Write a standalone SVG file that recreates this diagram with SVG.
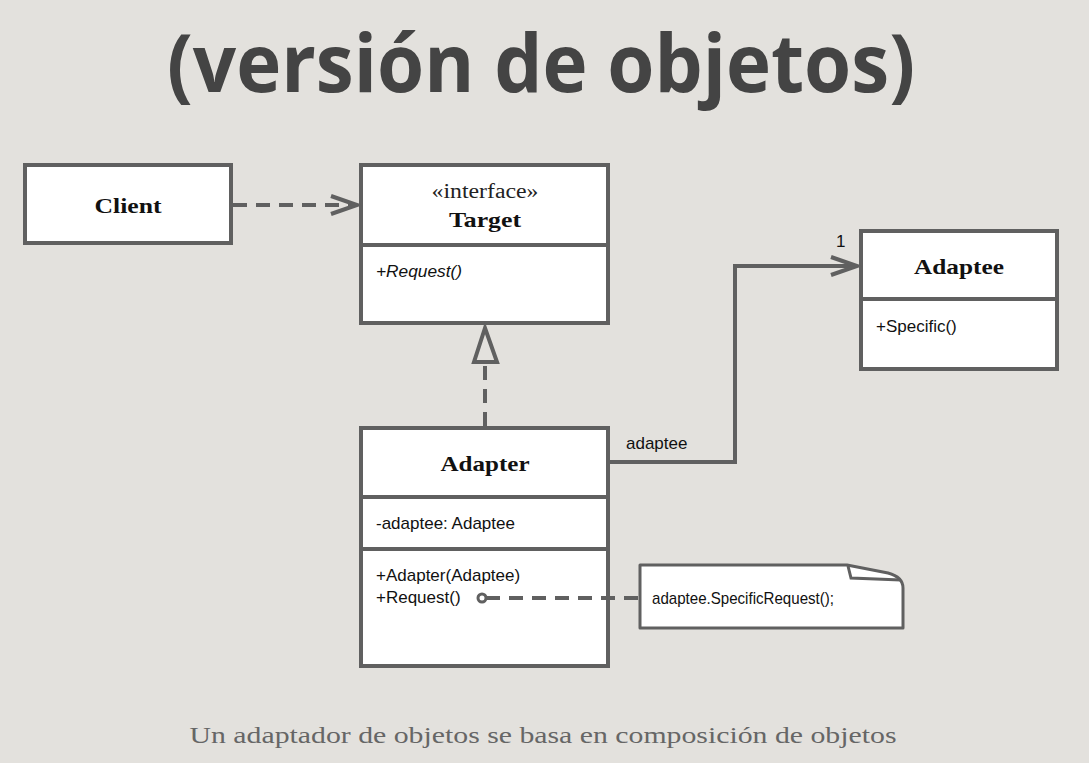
<svg xmlns="http://www.w3.org/2000/svg" width="1089" height="763" viewBox="0 0 1089 763">
<style>
.bg{fill:#e3e1dd}
.box{fill:#ffffff;stroke:#606060;stroke-width:4}
.div{stroke:#606060;stroke-width:4;fill:none}
.ln{stroke:#606060;stroke-width:4;fill:none}
.dash{stroke:#606060;stroke-width:4;fill:none;stroke-dasharray:14 9}
.hd{font-family:"Liberation Serif","DejaVu Serif",serif;font-weight:bold;font-size:22px;fill:#111;text-anchor:middle}
.st{font-family:"Liberation Serif","DejaVu Serif",serif;font-size:20px;fill:#222;text-anchor:middle}
.mb{font-family:"Liberation Sans",Arial,sans-serif;font-size:17px;fill:#111}
.title{font-family:"Open Sans","Noto Sans",sans-serif;font-weight:bold;font-size:80px;fill:#444;text-anchor:middle}
.cap{font-family:"Liberation Serif","DejaVu Serif",serif;font-size:24px;fill:#666;text-anchor:middle}
</style>
<rect class="bg" x="0" y="0" width="1089" height="763"/>
<text class="title" x="541" y="92" textLength="748" lengthAdjust="spacingAndGlyphs">(versión de objetos)</text>

<g id="client">
  <rect class="box" x="25" y="165" width="206" height="78"/>
  <text class="hd" x="128" y="213" textLength="67" lengthAdjust="spacingAndGlyphs">Client</text>
</g>

<g id="target">
  <rect class="box" x="361" y="165" width="247" height="158"/>
  <line class="div" x1="361" y1="245" x2="608" y2="245"/>
  <text class="st" x="485" y="198" textLength="107" lengthAdjust="spacingAndGlyphs">«interface»</text>
  <text class="hd" x="485" y="227" textLength="72" lengthAdjust="spacingAndGlyphs">Target</text>
  <text class="mb" x="376" y="277" font-style="italic" textLength="86" lengthAdjust="spacingAndGlyphs">+Request()</text>
</g>

<g id="adaptee">
  <rect class="box" x="861" y="231" width="196" height="138"/>
  <line class="div" x1="861" y1="299" x2="1057" y2="299"/>
  <text class="hd" x="959" y="274" textLength="90" lengthAdjust="spacingAndGlyphs">Adaptee</text>
  <text class="mb" x="876" y="332">+Specific()</text>
</g>

<g id="adapter">
  <rect class="box" x="361" y="428" width="247" height="238"/>
  <line class="div" x1="361" y1="497" x2="608" y2="497"/>
  <line class="div" x1="361" y1="549" x2="608" y2="549"/>
  <text class="hd" x="485" y="471" textLength="89" lengthAdjust="spacingAndGlyphs">Adapter</text>
  <text class="mb" x="376" y="529">-adaptee: Adaptee</text>
  <text class="mb" x="376" y="581">+Adapter(Adaptee)</text>
  <text class="mb" x="376" y="603">+Request()</text>
</g>

<g id="note">
  <path d="M640,565 L847,565 L888,573 Q903,577 903,588 L903,628 L640,628 Z" fill="#ffffff" stroke="#606060" stroke-width="3" stroke-linejoin="round"/>
  <path d="M848,566 L851,578 L901,580" fill="none" stroke="#606060" stroke-width="3"/>
  <text class="mb" x="652" y="604" textLength="182" lengthAdjust="spacingAndGlyphs">adaptee.SpecificRequest();</text>
</g>

<g id="connectors">
  <path class="dash" d="M233,205 L352,205"/>
  <path class="ln" d="M331,196 L357,205 L331,214"/>
  <path class="ln" d="M610,462 L735,462 L735,266 L855,266"/>
  <path class="ln" d="M831,257 L857,266 L831,275"/>
  <text class="mb" x="626" y="449">adaptee</text>
  <text class="mb" x="836" y="247">1</text>
  <path class="dash" d="M485,426 L485,364" stroke-dasharray="14 10"/>
  <path d="M485,328 L474,362 L497,362 Z" fill="#e3e1dd" stroke="#606060" stroke-width="4" stroke-linejoin="miter"/>
  <path class="dash" d="M486,598 L638,598" stroke-dasharray="14 10" stroke-width="3.5"/>
  <circle cx="482" cy="598" r="4" fill="#ffffff" stroke="#606060" stroke-width="3"/>
</g>

<text class="cap" x="543" y="743" textLength="707" lengthAdjust="spacingAndGlyphs">Un adaptador de objetos se basa en composición de objetos</text>
</svg>
